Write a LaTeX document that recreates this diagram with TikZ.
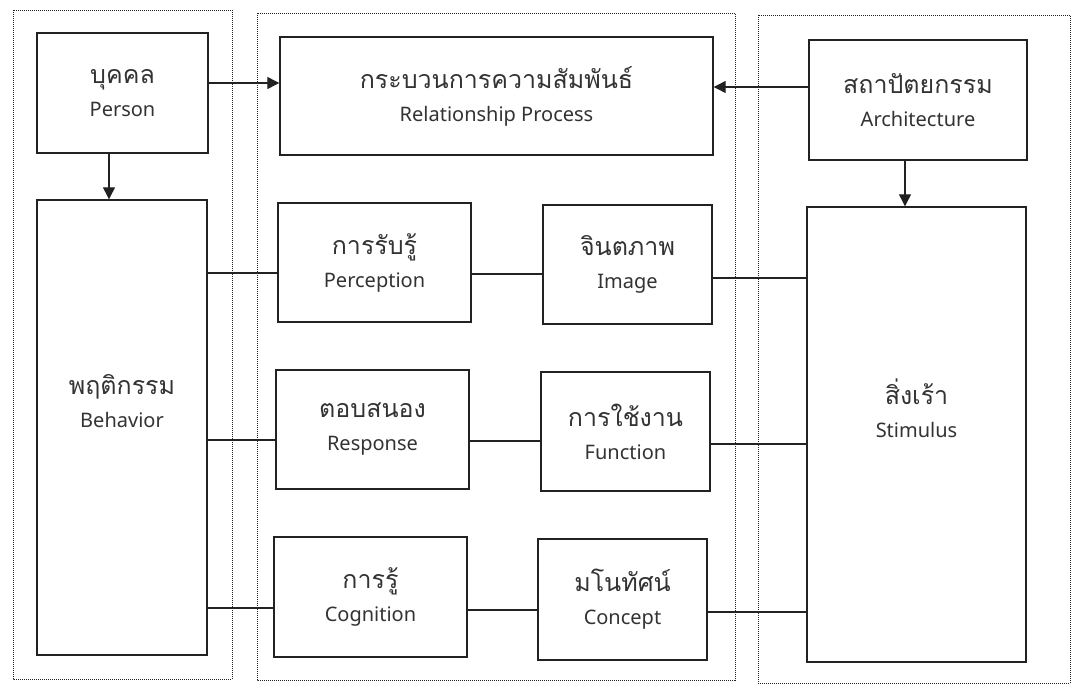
\documentclass[tikz,border=0pt]{standalone}
\usepackage{fontspec}
\setmainfont{Noto Sans}
\newfontfamily\thaifont[Script=Thai]{Loma}
\usetikzlibrary{arrows.meta}
\definecolor{ink}{HTML}{222222}
\definecolor{txt}{HTML}{333333}
\tikzset{
  txtstyle/.style={align=center, text=txt, inner sep=0pt, font=\fontsize{20pt}{33pt}\selectfont},
  box/.style={draw=ink, line width=1.4pt, fill=white, txtstyle},
  grp/.style={draw=ink, line width=1pt, densely dotted},
  link/.style={draw=ink, line width=1.2pt},
  arr/.style={link, -{Triangle[length=12pt,width=12pt]}},
}
\newcommand{\lbl}[2]{{\thaifont\fontsize{25pt}{33pt}\selectfont #1}\\#2}
\begin{document}
\begin{tikzpicture}[x=1pt,y=-1pt]
\useasboundingbox (0,0) rectangle (1073,686);
\fill[white] (0,0) rectangle (1073,686);
% groups
\draw[grp] (13,10) rectangle (232,679);
\draw[grp] (257,13) rectangle (735,680);
\draw[grp] (758,15) rectangle (1070,683);
% boxes
\node[box, minimum width=171pt, minimum height=120pt] (person) at (122.5,93) {\lbl{บุคคล}{Person}};
\node[box, minimum width=170pt, minimum height=455pt,
  label={[txtstyle, yshift=26pt]center:\lbl{พฤติกรรม}{Behavior}}] (behavior) at (122,427.5) {};
\node[box, minimum width=433pt, minimum height=118pt] (rel) at (496.5,96) {\lbl{กระบวนการความสัมพันธ์}{Relationship Process}};
\node[box, minimum width=218pt, minimum height=120pt] (arch) at (918,100) {\lbl{สถาปัตยกรรม}{Architecture}};
\node[box, minimum width=219pt, minimum height=455pt,
  label={[txtstyle, yshift=26pt]center:\lbl{สิ่งเร้า}{Stimulus}}] (stim) at (916.5,434.5) {};
\node[box, minimum width=193pt, minimum height=119pt] (perc) at (374.5,262.5) {\lbl{การรับรู้}{Perception}};
\node[box, minimum width=169pt, minimum height=119pt] (image) at (627.5,264.5) {\lbl{จินตภาพ}{Image}};
\node[box, minimum width=193pt, minimum height=119pt] (resp) at (372.5,429.5) {\lbl{ตอบสนอง}{Response}};
\node[box, minimum width=169pt, minimum height=119pt] (func) at (625.5,431.5) {\lbl{การใช้งาน}{Function}};
\node[box, minimum width=193pt, minimum height=120pt] (cogn) at (370.5,597) {\lbl{การรู้}{Cognition}};
\node[box, minimum width=169pt, minimum height=121pt] (conc) at (622.5,599.5) {\lbl{มโนทัศน์}{Concept}};
% arrows
\draw[arr] (person.east |- 0,83) -- (rel.west |- 0,83);
\draw[arr] (arch.west |- 0,87) -- (rel.east |- 0,87);
\draw[arr] (person.south -| 109,0) -- (behavior.north -| 109,0);
\draw[arr] (arch.south -| 905,0) -- (stim.north -| 905,0);
% links
\draw[link] (behavior.east |- 0,273) -- (perc.west |- 0,273);
\draw[link] (perc.east |- 0,274) -- (image.west |- 0,274);
\draw[link] (image.east |- 0,278) -- (stim.west |- 0,278);
\draw[link] (behavior.east |- 0,440) -- (resp.west |- 0,440);
\draw[link] (resp.east |- 0,441) -- (func.west |- 0,441);
\draw[link] (func.east |- 0,444) -- (stim.west |- 0,444);
\draw[link] (behavior.east |- 0,608) -- (cogn.west |- 0,608);
\draw[link] (cogn.east |- 0,610) -- (conc.west |- 0,610);
\draw[link] (conc.east |- 0,612) -- (stim.west |- 0,612);
\end{tikzpicture}
\end{document}
